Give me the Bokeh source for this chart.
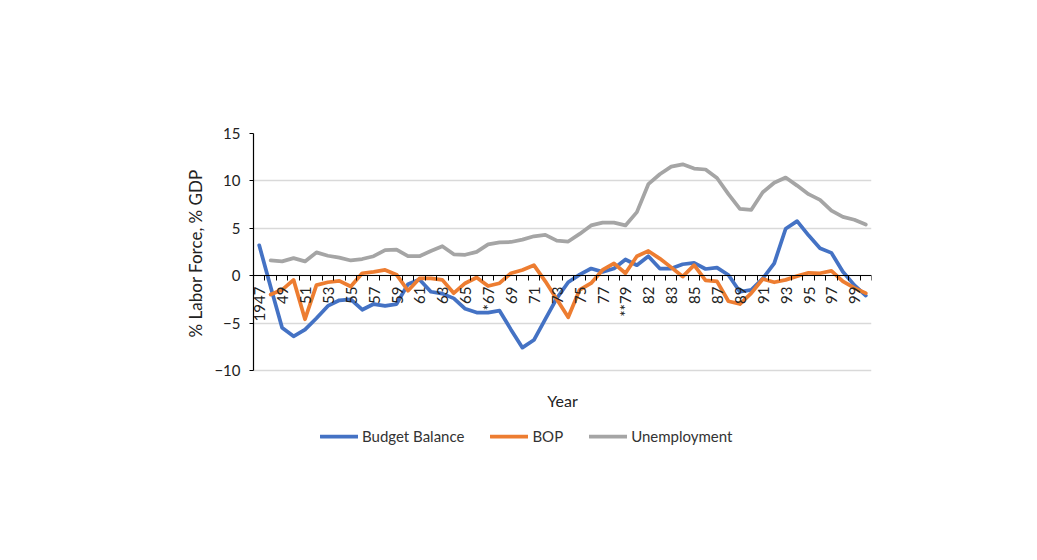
import math
from bokeh.plotting import figure
from bokeh.models import (ColumnDataSource, FixedTicker, Legend, LegendItem, Label, Title,
                          InlineStyleSheet)
from bokeh.embed import file_html
from bokeh.resources import INLINE

years = [1947, 1948, 1949, 1950, 1951, 1952, 1953, 1954, 1955, 1956,
         1957, 1958, 1959, 1960, 1961, 1962, 1963, 1964, 1965, 1966,
         1967, 1968, 1969, 1970, 1971, 1972, 1973, 1974, 1975, 1976,
         1977, 1978, 1979, 1980, 1981, 1982, 1983, 1984, 1985, 1986,
         1987, 1988, 1989, 1990, 1991, 1992, 1993, 1994, 1995, 1996,
         1997, 1998, 1999, 2000]

tick_labels = ["1947", "49", "51", "53", "55", "57", "59", "61", "63", "65",
               "*67", "69", "71", "73", "75", "77", "**79", "82", "83", "85",
               "87", "89", "91", "93", "95", "97", "99"]

y_ticks = [-10, -5, 0, 5, 10, 15]

nan = float("nan")

budget_balance = [3.2, -1.2, -5.5, -6.4, -5.7, -4.5, -3.2, -2.6, -2.5, -3.6,
                  -3.0, -3.2, -3.0, -0.9, -0.4, -1.7, -1.9, -2.4, -3.5, -3.9,
                  -3.9, -3.7, -5.7, -7.6, -6.8, -4.6, -2.4, -0.7, 0.1, 0.75,
                  0.4, 0.75, 1.7, 1.1, 2.05, 0.75, 0.75, 1.2, 1.35, 0.7,
                  0.85, 0.07, -1.7, -1.5, -0.3, 1.3, 4.95, 5.75, 4.25, 2.9,
                  2.4, 0.4, -1.0, -2.1]

bop = [nan, -2.0, -1.5, -0.45, -4.6, -1.0, -0.7, -0.55, -1.15, 0.25,
       0.4, 0.6, 0.1, -1.6, -0.3, -0.3, -0.45, -1.85, -0.8, -0.2,
       -1.1, -0.8, 0.25, 0.6, 1.1, -0.6, -2.5, -4.4, -1.5, -0.8,
       0.6, 1.3, 0.25, 2.05, 2.6, 1.8, 0.87, -0.1, 1.1, -0.5,
       -0.6, -2.7, -3.0, -1.85, -0.35, -0.7, -0.45, -0.05, 0.3, 0.25,
       0.5, -0.6, -1.3, -1.85]

unemployment = [nan, 1.6, 1.5, 1.85, 1.5, 2.45, 2.1, 1.9, 1.6, 1.75,
                2.05, 2.7, 2.75, 2.05, 2.05, 2.6, 3.1, 2.25, 2.2, 2.5,
                3.3, 3.5, 3.55, 3.8, 4.15, 4.3, 3.7, 3.6, 4.4, 5.3,
                5.6, 5.6, 5.3, 6.7, 9.65, 10.7, 11.5, 11.75, 11.3, 11.2,
                10.3, 8.6, 7.05, 6.95, 8.8, 9.8, 10.35, 9.5, 8.6, 8.0,
                6.85, 6.2, 5.9, 5.4]

series_names = ["Budget Balance", "BOP", "Unemployment"]
series_colors = ["#4472C4", "#ED7D31", "#A5A5A5"]

FONT = "Lato"
TXT = "#222222"

n = len(years)
xpos = [i + 0.5 for i in range(n)]
src = ColumnDataSource(dict(x=xpos, bb=budget_balance, bop=bop, un=unemployment))

# frame extends below the value axis to host the "Year" title and the legend
p = figure(width=1029, height=552, output_backend="svg", toolbar_location=None,
           x_range=(0, n), y_range=(-25, 15),
           min_border_left=253, min_border_right=158,
           min_border_top=133, min_border_bottom=40)
p.outline_line_color = None
p.background_fill_color = "white"
p.border_fill_color = "white"
p.stylesheets = [InlineStyleSheet(css=":host { outline: 1px solid #c8c8c8; outline-offset: -5px; }")]

renderers = []
for col, color in zip(["bb", "bop", "un"], series_colors):
    r = p.line("x", col, source=src, line_color=color, line_width=3.75,
               line_join="round", line_cap="round")
    renderers.append(r)

# category axis crossing at zero
major = [xpos[i] for i in range(0, n, 2)][:len(tick_labels)]
bounds = [float(i) for i in range(n + 1)]
xa = p.xaxis[0]
xa.fixed_location = 0
xa.ticker = FixedTicker(ticks=major, minor_ticks=bounds)
xa.major_label_overrides = {m: lab for m, lab in zip(major, tick_labels)}
xa.major_label_orientation = math.pi / 2
xa.major_tick_in = 0
xa.major_tick_out = 0
xa.minor_tick_in = 0
xa.minor_tick_out = 5
xa.minor_tick_line_color = "black"
xa.axis_line_color = "black"
xa.axis_line_width = 1.2
xa.major_label_standoff = 6
xa.major_label_text_font = FONT
xa.major_label_text_font_size = "15px"
xa.major_label_text_color = TXT

ya = p.yaxis[0]
ya.ticker = FixedTicker(ticks=y_ticks)
ya.bounds = (min(y_ticks), max(y_ticks))
ya.axis_line_color = "black"
ya.axis_line_width = 1.2
ya.major_tick_in = 0
ya.major_tick_out = 4
ya.major_tick_line_color = "black"
ya.minor_tick_line_color = None
ya.major_label_standoff = 9
ya.major_label_text_font = FONT
ya.major_label_text_font_size = "15px"
ya.major_label_text_color = TXT

p.xgrid.grid_line_color = None
p.ygrid.grid_line_color = "#D9D9D9"
p.ygrid.grid_line_width = 1.3

# y-axis title, placed in the left panel and shifted to sit beside the -10..15 band
ytitle = Title(text="% Labor Force, % GDP", align="right", offset=36, standoff=12,
               text_font=FONT, text_font_size="17px", text_font_style="normal",
               text_color=TXT)
p.add_layout(ytitle, "left")

p.add_layout(Label(x=309, y=112, x_units="screen", y_units="screen", text="Year",
                   text_align="center", text_baseline="middle",
                   text_font=FONT, text_font_size="16px", text_color=TXT))

legend = Legend(items=[LegendItem(label=nm, renderers=[r]) for nm, r in zip(series_names, renderers)],
                orientation="horizontal", location=(67, 66),
                glyph_width=38, glyph_height=20, label_standoff=4, spacing=26,
                padding=0, margin=0, border_line_alpha=0, background_fill_alpha=0,
                label_text_font=FONT, label_text_font_size="15px", label_text_color="#333333")
p.add_layout(legend)

open("out.html", "w").write(file_html(p, INLINE))
